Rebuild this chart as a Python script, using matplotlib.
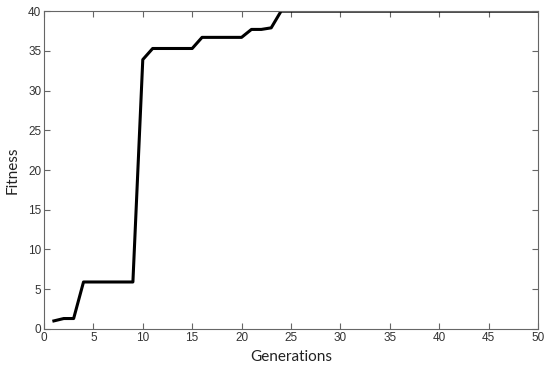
import matplotlib
matplotlib.use("Agg")
import matplotlib.pyplot as plt

plt.rcParams["font.family"] = ["Liberation Sans", "DejaVu Sans"]

generations = list(range(1, 51))
fitness = [1.0, 1.3, 1.3, 5.9, 5.9, 5.9, 5.9, 5.9, 5.9, 33.9,
           35.3, 35.3, 35.3, 35.3, 35.3, 36.7, 36.7, 36.7, 36.7, 36.7,
           37.7, 37.7, 37.9] + [40.0] * 27

fig = plt.figure(figsize=(5.5, 3.72), dpi=100)
ax = fig.add_axes([0.08, 0.116, 0.898, 0.854])
ax.plot(generations, fitness, color="black", linewidth=2.2)
ax.set_xlim(0, 50)
ax.set_ylim(0, 40)
ax.set_xticks(range(0, 51, 5))
ax.set_yticks(range(0, 41, 5))
ax.tick_params(direction="in", top=True, right=True, length=4, width=0.8,
               color="#666666", labelsize=8.5, labelcolor="#333333", pad=2)
for s in ax.spines.values():
    s.set_color("#666666")
    s.set_linewidth(0.8)
ax.set_xlabel("Generations", family="Lato", fontsize=11, color="#222222")
ax.set_ylabel("Fitness", family="Lato", fontsize=11, color="#222222")
ax.xaxis.set_label_coords(0.5, -0.066)
ax.yaxis.set_label_coords(-0.05, 0.5)

fig.savefig("out.png", dpi=100)
